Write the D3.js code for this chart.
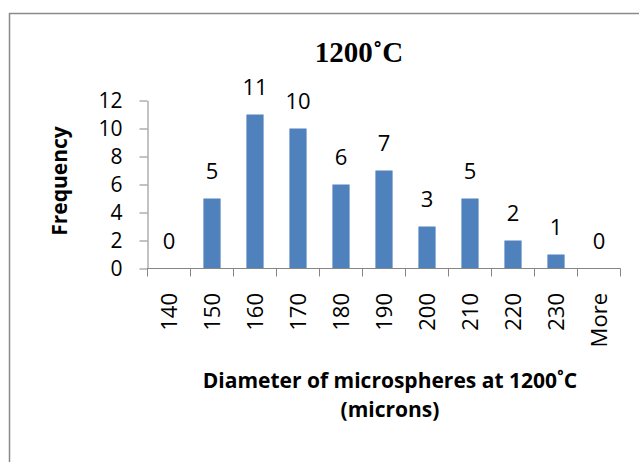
<!DOCTYPE html>
<html>
<head>
<meta charset="utf-8">
<script src="https://cdn.jsdelivr.net/npm/d3@7"></script>
<style>
  body { margin: 0; background: #fff; }
  text { font-family: "Open Sans", Lato, sans-serif; }
</style>
</head>
<body>
<script>
// chart size
var w = 639, h = 462;

// data
var bins = ["140", "150", "160", "170", "180", "190", "200", "210", "220", "230", "More"];
var counts = [0, 5, 11, 10, 6, 7, 3, 5, 2, 1, 0];
var yTicks = [0, 2, 4, 6, 8, 10, 12];
var xTitle = ["Diameter of microspheres at 1200˚C", "(microns)"];

var svg = d3.select("body").append("svg")
  .attr("width", w)
  .attr("height", h);

// outer frame of the chart area
svg.append("path")
  .attr("d", "M9.5," + h + "V13.5H" + w)
  .attr("fill", "none")
  .attr("stroke", "#8a8a8a")
  .attr("stroke-width", 1.5);

// plot area edges
var plotL = 147.5, plotR = 620.5, plotT = 100.5, plotB = 268.5;

var x = d3.scaleBand()
  .domain(bins)
  .range([plotL, plotR])
  .paddingInner(0.6)
  .paddingOuter(0.3);

var y = d3.scaleLinear()
  .domain([0, 12])
  .range([plotB, plotT]);

// bars
svg.selectAll(".bar")
  .data(counts)
  .enter()
  .append("rect")
  .attr("class", "bar")
  .attr("x", function(d, i){ return x(bins[i]); })
  .attr("y", function(d){ return y(d); })
  .attr("width", x.bandwidth())
  .attr("height", function(d){ return plotB - y(d); })
  .style("fill", "#4F81BD");

// y axis
var yAxis = svg.append("g")
  .attr("transform", "translate(" + plotL + ",0)")
  .call(d3.axisLeft(y).tickValues(yTicks).tickSize(8).tickSizeOuter(0));
yAxis.select(".domain").attr("stroke", "#868686");
yAxis.selectAll(".tick line").attr("stroke", "#868686");
yAxis.selectAll(".tick text")
  .attr("x", -25)
  .attr("font-size", 21)
  .attr("fill", "#000")
  .style("font-family", "'Open Sans', sans-serif");

// x axis line with boundary ticks
var bounds = d3.range(bins.length + 1).map(function(i){ return plotL + i * (plotR - plotL) / bins.length; });
svg.append("line")
  .attr("x1", plotL).attr("x2", plotR)
  .attr("y1", plotB).attr("y2", plotB)
  .attr("stroke", "#868686");
svg.selectAll(".xtick")
  .data(bounds)
  .enter()
  .append("line")
  .attr("x1", function(d){ return Math.round(d - 0.5) + 0.5; })
  .attr("x2", function(d){ return Math.round(d - 0.5) + 0.5; })
  .attr("y1", plotB)
  .attr("y2", plotB + 8)
  .attr("stroke", "#868686");

// x tick labels, rotated
svg.selectAll(".xlab")
  .data(bins)
  .enter()
  .append("text")
  .attr("transform", function(d){
    return "translate(" + (x(d) + x.bandwidth() / 2 + 8) + "," + 293 + ") rotate(-90)";
  })
  .attr("text-anchor", "end")
  .attr("font-size", 22)
  .text(function(d){ return d; });

// value labels
svg.selectAll(".val")
  .data(counts)
  .enter()
  .append("text")
  .attr("x", function(d, i){ return x(bins[i]) + x.bandwidth() / 2; })
  .attr("y", function(d){ return y(d) - 20; })
  .attr("text-anchor", "middle")
  .attr("font-size", 22)
  .text(function(d){ return d; });

// title
svg.append("text")
  .attr("x", 359)
  .attr("y", 62)
  .attr("text-anchor", "middle")
  .attr("font-size", 29)
  .attr("font-weight", "bold")
  .style("font-family", "'Liberation Serif', serif")
  .text("1200˚C");

// y axis title
svg.append("text")
  .attr("transform", "translate(67,181) rotate(-90)")
  .attr("text-anchor", "middle")
  .attr("font-size", 21)
  .attr("font-weight", "bold")
  .text("Frequency");

// x axis title, two lines
svg.selectAll(".xtitle")
  .data(xTitle)
  .enter()
  .append("text")
  .attr("x", 390)
  .attr("y", function(d, i){ return 388 + i * 29; })
  .attr("text-anchor", "middle")
  .attr("font-size", 21)
  .attr("font-weight", "bold")
  .text(function(d){ return d; });
</script>
</body>
</html>
